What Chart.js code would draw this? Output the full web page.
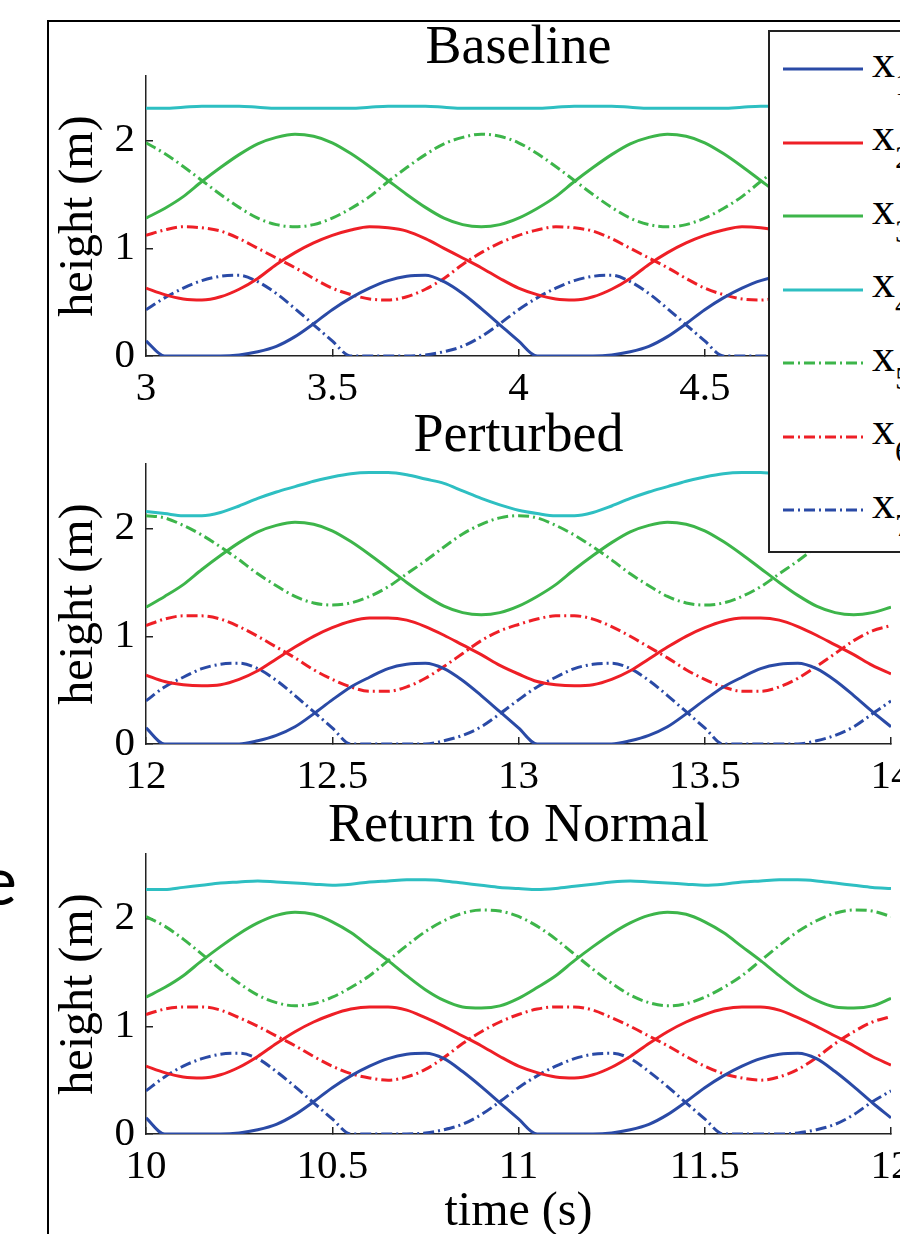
<!DOCTYPE html>
<html>
<head>
<meta charset="utf-8">
<title>Baseline / Perturbed / Return to Normal</title>
<script src="https://cdn.jsdelivr.net/npm/chart.js@4.4.1/dist/chart.umd.min.js"></script>
<style>
  html, body { margin: 0; padding: 0; background: #fff; }
  body { width: 900px; height: 1234px; overflow: hidden; position: relative; }
  canvas { position: absolute; left: 0; }
  #frame {
    position: absolute; left: 47px; top: 20px; width: 1000px; height: 1400px;
    border-left: 2px solid #000; border-top: 2px solid #000;
  }
  #slideText {
    position: absolute; left: -19px; top: 845px;
    font-family: 'Lato', 'Open Sans', sans-serif; font-weight: 400;
    font-size: 68px; line-height: 68px; color: #000;
  }
  #legendBox {
    position: absolute; left: 768px; top: 30px; width: 300px; height: 523px;
    box-sizing: border-box; border: 2px solid #222; background: #fff; z-index: 5;
  }
  .lg-sample { position: absolute; left: 783px; z-index: 6; }
  .lg-text {
    position: absolute; left: 872px; z-index: 6; white-space: nowrap;
    font-family: 'Liberation Serif', 'Times New Roman', serif; font-size: 46px; line-height: 46px; color: #000;
  }
  .lg-text sub { font-size: 32px; vertical-align: -18px; line-height: 0; }
</style>
</head>
<body>
<div id="frame"></div>
<div id="slideText">e</div>

<canvas id="cBase" width="1000" height="416" style="top:0px"></canvas>
<canvas id="cPert" width="1000" height="416" style="top:388px"></canvas>
<canvas id="cRet" width="1000" height="466" style="top:778px"></canvas>

<div id="legendBox"></div>

<script>
/* ---------- data (0.05 s sampling) ---------- */
const timesBase = [3, 3.05, 3.1, 3.15, 3.2, 3.25, 3.3, 3.35, 3.4, 3.45, 3.5, 3.55, 3.6, 3.65, 3.7, 3.75, 3.8, 3.85, 3.9, 3.95,
                   4, 4.05, 4.1, 4.15, 4.2, 4.25, 4.3, 4.35, 4.4, 4.45, 4.5, 4.55, 4.6, 4.65, 4.7, 4.75, 4.8, 4.85, 4.9, 4.95, 5];
const timesPert = [12, 12.05, 12.1, 12.15, 12.2, 12.25, 12.3, 12.35, 12.4, 12.45, 12.5, 12.55, 12.6, 12.65, 12.7, 12.75, 12.8, 12.85, 12.9, 12.95,
                   13, 13.05, 13.1, 13.15, 13.2, 13.25, 13.3, 13.35, 13.4, 13.45, 13.5, 13.55, 13.6, 13.65, 13.7, 13.75, 13.8, 13.85, 13.9, 13.95, 14];
const timesRet  = [10, 10.05, 10.1, 10.15, 10.2, 10.25, 10.3, 10.35, 10.4, 10.45, 10.5, 10.55, 10.6, 10.65, 10.7, 10.75, 10.8, 10.85, 10.9, 10.95,
                   11, 11.05, 11.1, 11.15, 11.2, 11.25, 11.3, 11.35, 11.4, 11.45, 11.5, 11.55, 11.6, 11.65, 11.7, 11.75, 11.8, 11.85, 11.9, 11.95, 12];

// Baseline
const baseX1 = [0.14,0.00,0.00,0.00,0.00,0.01,0.04,0.09,0.18,0.30,0.43,0.54,0.63,0.70,0.74,0.75,0.69,0.58,0.44,0.29,
                0.14,0.00,0.00,0.00,0.00,0.01,0.04,0.09,0.18,0.30,0.43,0.54,0.63,0.70,0.74,0.75,0.69,0.58,0.44,0.29,0.14];
const baseX2 = [0.63,0.57,0.53,0.52,0.55,0.62,0.72,0.85,0.96,1.05,1.12,1.17,1.20,1.19,1.16,1.09,1.00,0.91,0.82,0.72,
                0.63,0.57,0.53,0.52,0.55,0.62,0.72,0.85,0.96,1.05,1.12,1.17,1.20,1.19,1.16,1.09,1.00,0.91,0.82,0.72,0.63];
const baseX3 = [1.28,1.37,1.48,1.62,1.75,1.87,1.97,2.03,2.06,2.04,1.98,1.88,1.76,1.63,1.50,1.38,1.28,1.22,1.20,1.22,
                1.28,1.37,1.48,1.62,1.75,1.87,1.97,2.03,2.06,2.04,1.98,1.88,1.76,1.63,1.50,1.38,1.28,1.22,1.20,1.22,1.28];
const baseX4 = [2.30,2.30,2.31,2.32,2.32,2.32,2.31,2.30,2.30,2.30,2.30,2.30,2.31,2.32,2.32,2.32,2.31,2.30,2.30,2.30,
                2.30,2.30,2.31,2.32,2.32,2.32,2.31,2.30,2.30,2.30,2.30,2.30,2.31,2.32,2.32,2.32,2.31,2.30,2.30,2.30,2.30];
const baseX5 = [1.98,1.88,1.76,1.63,1.50,1.38,1.28,1.22,1.20,1.22,1.28,1.37,1.48,1.62,1.75,1.87,1.97,2.03,2.06,2.04,
                1.98,1.88,1.76,1.63,1.50,1.38,1.28,1.22,1.20,1.22,1.28,1.37,1.48,1.62,1.75,1.87,1.97,2.03,2.06,2.04,1.98];
const baseX6 = [1.12,1.17,1.20,1.19,1.16,1.09,1.00,0.91,0.82,0.72,0.63,0.57,0.53,0.52,0.55,0.62,0.72,0.85,0.96,1.05,
                1.12,1.17,1.20,1.19,1.16,1.09,1.00,0.91,0.82,0.72,0.63,0.57,0.53,0.52,0.55,0.62,0.72,0.85,0.96,1.05,1.12];
const baseX7 = [0.43,0.54,0.63,0.70,0.74,0.75,0.69,0.58,0.44,0.29,0.14,0.00,0.00,0.00,0.00,0.01,0.04,0.09,0.18,0.30,
                0.43,0.54,0.63,0.70,0.74,0.75,0.69,0.58,0.44,0.29,0.14,0.00,0.00,0.00,0.00,0.01,0.04,0.09,0.18,0.30,0.43];

// Perturbed
const pertX1 = [0.15,0.00,0.00,0.00,0.00,0.00,0.03,0.08,0.16,0.28,0.41,0.53,0.62,0.70,0.74,0.75,0.70,0.59,0.45,0.30,
                0.15,0.00,0.00,0.00,0.00,0.00,0.03,0.08,0.16,0.28,0.41,0.53,0.62,0.70,0.74,0.75,0.70,0.59,0.45,0.30,0.16];
const pertX2 = [0.64,0.58,0.55,0.54,0.55,0.60,0.68,0.79,0.90,1.00,1.08,1.14,1.17,1.17,1.15,1.09,1.01,0.92,0.83,0.73,
                0.65,0.58,0.55,0.54,0.55,0.60,0.68,0.79,0.90,1.00,1.08,1.14,1.17,1.17,1.15,1.09,1.01,0.92,0.83,0.73,0.65];
const pertX3 = [1.27,1.37,1.48,1.62,1.75,1.87,1.97,2.03,2.06,2.04,1.98,1.88,1.76,1.63,1.50,1.38,1.28,1.22,1.20,1.22,
                1.28,1.37,1.48,1.62,1.75,1.87,1.97,2.03,2.06,2.04,1.98,1.88,1.76,1.63,1.50,1.38,1.28,1.22,1.20,1.22,1.27];
const pertX4 = [2.16,2.14,2.12,2.12,2.15,2.21,2.28,2.34,2.39,2.44,2.48,2.51,2.52,2.52,2.50,2.46,2.42,2.35,2.28,2.22,
                2.17,2.14,2.12,2.12,2.15,2.21,2.28,2.34,2.39,2.44,2.48,2.51,2.52,2.52,2.50,2.46,2.42,2.35,2.28,2.22,2.17];
const pertX5 = [2.12,2.10,2.03,1.94,1.83,1.71,1.58,1.47,1.37,1.31,1.29,1.31,1.37,1.46,1.58,1.70,1.83,1.95,2.04,2.10,
                2.12,2.10,2.03,1.94,1.83,1.71,1.58,1.47,1.37,1.31,1.29,1.31,1.37,1.46,1.58,1.70,1.83,1.95,2.04,2.10,2.12];
const pertX6 = [1.10,1.16,1.19,1.19,1.16,1.09,1.00,0.90,0.80,0.69,0.60,0.53,0.49,0.49,0.53,0.61,0.72,0.84,0.96,1.05,
                1.11,1.16,1.19,1.19,1.16,1.09,1.00,0.90,0.80,0.69,0.60,0.53,0.49,0.49,0.53,0.61,0.72,0.84,0.96,1.05,1.10];
const pertX7 = [0.40,0.53,0.62,0.70,0.74,0.75,0.70,0.59,0.45,0.30,0.15,0.00,0.00,0.00,0.00,0.00,0.03,0.08,0.16,0.28,
                0.41,0.53,0.62,0.70,0.74,0.75,0.70,0.59,0.45,0.30,0.15,0.00,0.00,0.00,0.00,0.00,0.03,0.08,0.16,0.28,0.40];

// Return to Normal
const retX1 = [0.15,0.00,0.00,0.00,0.00,0.01,0.04,0.09,0.18,0.30,0.43,0.54,0.63,0.70,0.74,0.75,0.70,0.58,0.44,0.29,
               0.14,0.00,0.00,0.00,0.00,0.01,0.04,0.09,0.18,0.30,0.43,0.54,0.63,0.70,0.74,0.75,0.70,0.58,0.44,0.29,0.15];
const retX2 = [0.63,0.57,0.53,0.52,0.55,0.62,0.72,0.84,0.95,1.04,1.11,1.16,1.18,1.18,1.15,1.08,1.00,0.91,0.82,0.72,
               0.63,0.57,0.53,0.52,0.55,0.62,0.72,0.84,0.95,1.04,1.11,1.16,1.18,1.18,1.15,1.08,1.00,0.91,0.82,0.72,0.64];
const retX3 = [1.27,1.36,1.47,1.61,1.74,1.86,1.96,2.03,2.06,2.04,1.97,1.87,1.74,1.61,1.47,1.34,1.24,1.18,1.17,1.19,
               1.26,1.36,1.47,1.61,1.74,1.86,1.96,2.03,2.06,2.04,1.97,1.87,1.74,1.61,1.47,1.34,1.24,1.18,1.17,1.19,1.26];
const retX4 = [2.27,2.27,2.29,2.31,2.33,2.34,2.35,2.34,2.33,2.32,2.31,2.32,2.34,2.35,2.36,2.36,2.35,2.33,2.31,2.29,
               2.28,2.27,2.28,2.30,2.32,2.34,2.35,2.34,2.33,2.32,2.31,2.32,2.34,2.35,2.36,2.36,2.35,2.33,2.31,2.29,2.28];
const retX5 = [2.02,1.93,1.81,1.67,1.53,1.40,1.29,1.22,1.19,1.21,1.27,1.36,1.47,1.61,1.75,1.88,1.98,2.05,2.08,2.07,
               2.02,1.93,1.81,1.67,1.53,1.40,1.29,1.22,1.19,1.21,1.27,1.36,1.47,1.61,1.75,1.88,1.98,2.05,2.08,2.07,2.02];
const retX6 = [1.11,1.16,1.18,1.18,1.15,1.08,1.00,0.91,0.82,0.72,0.63,0.56,0.52,0.50,0.53,0.60,0.71,0.84,0.95,1.04,
               1.11,1.16,1.18,1.18,1.15,1.08,1.00,0.91,0.82,0.72,0.63,0.56,0.52,0.50,0.53,0.60,0.71,0.84,0.95,1.04,1.09];
const retX7 = [0.40,0.53,0.63,0.70,0.74,0.75,0.70,0.58,0.44,0.29,0.14,0.00,0.00,0.00,0.00,0.01,0.04,0.09,0.18,0.30,
               0.43,0.54,0.63,0.70,0.74,0.75,0.70,0.58,0.44,0.29,0.14,0.00,0.00,0.00,0.00,0.01,0.04,0.09,0.18,0.30,0.40];

const seriesSubs = ['1', '2', '3', '4', '5', '6', '7'];
const yTicks = [0, 1, 2];

/* ---------- styles ---------- */
const BLUE = '#2a4aa6', RED = '#ee1f26', GREEN = '#3db54a', CYAN = '#2ebfc2';
const DASHDOT = [11, 4, 2, 4];
const seriesStyle = [
    { color: BLUE,  dash: [] },
    { color: RED,   dash: [] },
    { color: GREEN, dash: [] },
    { color: CYAN,  dash: [] },
    { color: GREEN, dash: DASHDOT },
    { color: RED,   dash: DASHDOT },
    { color: BLUE,  dash: DASHDOT },
];

const SERIF = "'Liberation Serif', 'Times New Roman', serif";
Chart.defaults.font.family = SERIF;
Chart.defaults.color = '#000';

const PLOT_LEFT = 146;      // px from page left to plot area
const CANVAS_W = 1000;
const PLOT_RIGHT = 891;

function makePanel(id, title, times, values, xMin, xMax, showXTitle) {
    const ctx = document.getElementById(id).getContext('2d');
    const axisGrid = {
        display: true, drawOnChartArea: false, drawTicks: true,
        tickLength: -7, color: '#222', lineWidth: 1.5
    };
    return new Chart(ctx, {
        type: 'line',
        data: {
            datasets: values.map((vals, i) => ({
                label: 'x' + seriesSubs[i],
                data: times.map((t, k) => ({ x: t, y: vals[k] })),
                borderColor: seriesStyle[i].color,
                borderDash: seriesStyle[i].dash,
                borderWidth: 3,
                pointRadius: 0,
                fill: false,
                cubicInterpolationMode: 'monotone'
            }))
        },
        options: {
            responsive: false,
            animation: false,
            devicePixelRatio: 1,
            layout: { padding: { left: 0, right: CANVAS_W - PLOT_RIGHT, top: 0, bottom: 0 } },
            plugins: {
                legend: { display: false },
                tooltip: { enabled: false },
                title: {
                    display: true, text: title, fullSize: false, color: '#000',
                    font: { size: 54, weight: 'normal', lineHeight: 1 },
                    padding: { top: 22, bottom: 0 }
                }
            },
            scales: {
                x: {
                    type: 'linear', min: xMin, max: xMax,
                    ticks: { stepSize: 0.5, padding: 16, maxRotation: 0, autoSkip: false,
                             font: { size: 41, lineHeight: 1.2 }, color: '#000',
                             callback: v => String(Math.round(v * 10) / 10) },
                    grid: axisGrid,
                    border: { display: true, color: '#222', width: 1.5 },
                    title: { display: showXTitle, text: 'time (s)', color: '#000',
                             font: { size: 48, lineHeight: 1 }, padding: { top: 0, bottom: 8 } },
                    afterFit: s => { s.height = showXTitle ? 110 : 60; s.paddingLeft = 0; s.paddingRight = 0; }
                },
                y: {
                    min: 0, max: 2.6,
                    afterBuildTicks: s => { s.ticks = yTicks.map(v => ({ value: v })); },
                    ticks: { padding: 18, font: { size: 41 }, color: '#000' },
                    grid: axisGrid,
                    border: { display: true, color: '#222', width: 1.5 },
                    title: { display: true, text: 'height (m)', color: '#000',
                             font: { size: 48, lineHeight: 1 }, padding: { top: 55, bottom: 0 } },
                    afterFit: s => { s.width = PLOT_LEFT; s.paddingTop = 0; s.paddingBottom = 0; }
                }
            }
        }
    });
}

makePanel('cBase', 'Baseline', timesBase,
    [baseX1, baseX2, baseX3, baseX4, baseX5, baseX6, baseX7], 3, 5, false);
makePanel('cPert', 'Perturbed', timesPert,
    [pertX1, pertX2, pertX3, pertX4, pertX5, pertX6, pertX7], 12, 14, false);
makePanel('cRet', 'Return to Normal', timesRet,
    [retX1, retX2, retX3, retX4, retX5, retX6, retX7], 10, 12, true);

/* ---------- legend (overlaps panels, cut by the page edge) ---------- */
const LEGEND_FIRST = 69, LEGEND_STEP = 73.5;
seriesSubs.forEach((sub, i) => {
    const cy = LEGEND_FIRST + i * LEGEND_STEP;
    const st = seriesStyle[i];
    const svg = document.createElementNS('http://www.w3.org/2000/svg', 'svg');
    svg.setAttribute('class', 'lg-sample');
    svg.setAttribute('width', '80');
    svg.setAttribute('height', '10');
    svg.style.top = (cy - 5) + 'px';
    const line = document.createElementNS('http://www.w3.org/2000/svg', 'line');
    line.setAttribute('x1', '0'); line.setAttribute('x2', '80');
    line.setAttribute('y1', '5'); line.setAttribute('y2', '5');
    line.setAttribute('stroke', st.color);
    line.setAttribute('stroke-width', '3');
    if (st.dash.length) line.setAttribute('stroke-dasharray', st.dash.join(' '));
    svg.appendChild(line);
    document.body.appendChild(svg);

    const txt = document.createElement('div');
    txt.className = 'lg-text';
    txt.style.top = (cy - 30.5) + 'px';
    txt.innerHTML = 'x<sub>' + sub + '</sub>';
    document.body.appendChild(txt);
});
</script>
</body>
</html>
